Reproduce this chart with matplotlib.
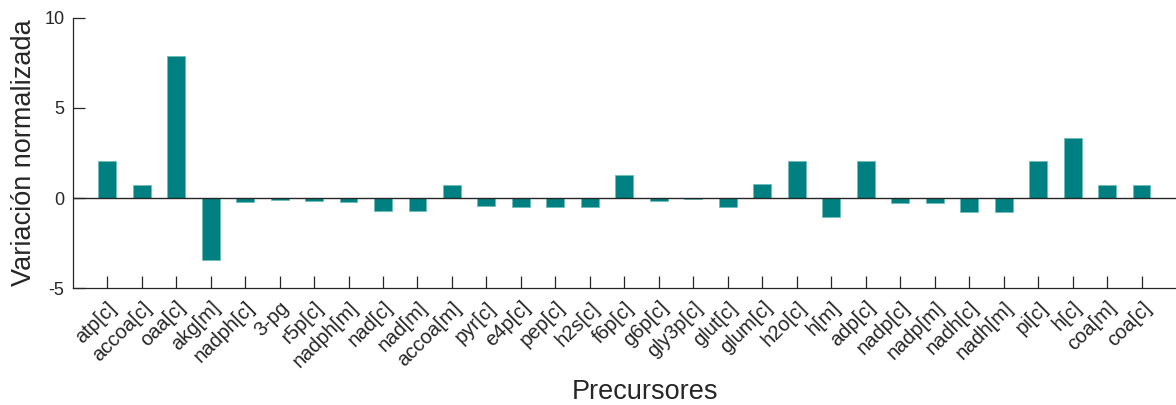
import matplotlib
matplotlib.use("Agg")
import matplotlib.pyplot as plt

plt.rcParams['font.family'] = ['Liberation Sans', 'DejaVu Sans']

precursores = [
    'atp[c]', 'accoa[c]', 'oaa[c]', 'akg[m]', 'nadph[c]', '3-pg', 'r5p[c]',
    'nadph[m]', 'nad[c]', 'nad[m]', 'accoa[m]', 'pyr[c]', 'e4p[c]', 'pep[c]',
    'h2s[c]', 'f6p[c]', 'g6p[c]', 'gly3p[c]', 'glut[c]', 'glum[c]', 'h2o[c]',
    'h[m]', 'adp[c]', 'nadp[c]', 'nadp[m]', 'nadh[c]', 'nadh[m]', 'pi[c]',
    'h[c]', 'coa[m]', 'coa[c]',
]
variacion = [
    2.05, 0.74, 7.9, -3.43, -0.22, -0.08, -0.15,
    -0.22, -0.72, -0.72, 0.73, -0.43, -0.5, -0.48,
    -0.48, 1.29, -0.13, -0.07, -0.5, 0.79, 2.05,
    -1.02, 2.05, -0.24, -0.24, -0.74, -0.74, 2.05,
    3.31, 0.72, 0.72,
]
yticks = [-5, 0, 5, 10]
ytick_labels = ['-5', '0', '5', '10']

fig = plt.figure(figsize=(11.76, 4.05), dpi=100)
ax = fig.add_axes([0.0618, 0.288, 0.9382, 0.668])

pos = list(range(1, len(precursores) + 1))
ax.bar(pos, variacion, width=0.52, color='#008080', edgecolor='#6fbcbc', linewidth=0.6, zorder=2)
ax.axhline(0, color='#262626', linewidth=1.0, zorder=3)

ax.set_xlim(0, 32)
ax.set_ylim(-5, 10)
ax.set_yticks(yticks)
ax.set_yticklabels(ytick_labels)
ax.set_xticks(pos)
ax.set_xticklabels(precursores, rotation=45, ha='right', va='top', rotation_mode='anchor')

for s in ['top', 'right']:
    ax.spines[s].set_visible(False)
for s in ['left', 'bottom']:
    ax.spines[s].set_color('#262626')
    ax.spines[s].set_linewidth(0.9)

ax.tick_params(axis='both', direction='in', length=8.5, width=0.9, color='#262626',
               labelcolor='#262626')
ax.tick_params(axis='y', labelsize=13, pad=6)
ax.tick_params(axis='x', labelsize=14.5, pad=7)

ax.set_ylabel('Variación normalizada', fontsize=19.5, color='#262626', labelpad=5)
ax.set_xlabel('Precursores', fontsize=19.5, color='#262626')
ax.xaxis.set_label_coords(0.519, -0.335)

fig.savefig('out.png', dpi=100)
